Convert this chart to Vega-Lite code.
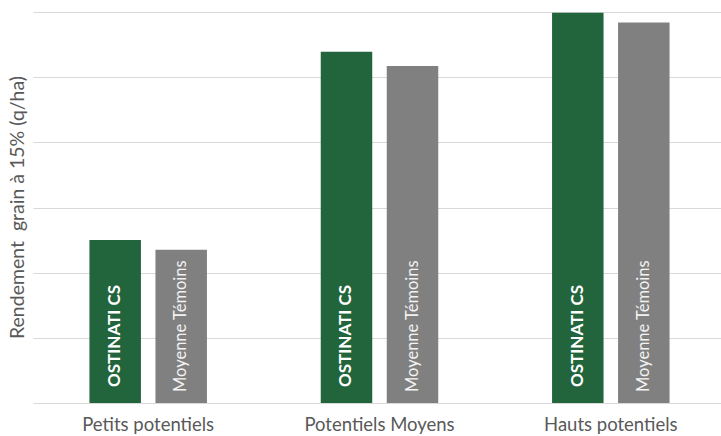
{
  "$schema": "https://vega.github.io/schema/vega-lite/v6.json",
  "width": 688,
  "height": 391,
  "autosize": {"type": "none"},
  "padding": {"left": 33, "top": 12, "right": 0, "bottom": 33},
  "config": {
    "view": {"stroke": null},
    "font": "Lato",
    "axis": {"labelFont": "Lato", "titleFont": "Lato"}
  },
  "data": {
    "values": [
      {"categorie": "Petits potentiels", "serie": "OSTINATI CS", "rendement": 25.0},
      {"categorie": "Petits potentiels", "serie": "Moyenne Témoins", "rendement": 23.5},
      {"categorie": "Potentiels Moyens", "serie": "OSTINATI CS", "rendement": 53.9},
      {"categorie": "Potentiels Moyens", "serie": "Moyenne Témoins", "rendement": 51.7},
      {"categorie": "Hauts potentiels", "serie": "OSTINATI CS", "rendement": 59.9},
      {"categorie": "Hauts potentiels", "serie": "Moyenne Témoins", "rendement": 58.4}
    ]
  },
  "encoding": {
    "x": {
      "field": "categorie",
      "type": "nominal",
      "sort": ["Petits potentiels", "Potentiels Moyens", "Hauts potentiels"],
      "scale": {"range": [0, 693], "paddingInner": 0.492, "paddingOuter": 0.244},
      "axis": {
        "title": null,
        "labelAngle": 0,
        "labelFontSize": 18.5,
        "labelColor": "#595959",
        "labelPadding": 12,
        "ticks": false,
        "domainColor": "#D9D9D9",
        "domainWidth": 1
      }
    },
    "xOffset": {
      "field": "serie",
      "type": "nominal",
      "sort": ["OSTINATI CS", "Moyenne Témoins"],
      "scale": {"paddingInner": 0.22, "paddingOuter": 0}
    }
  },
  "layer": [
    {
      "mark": {"type": "bar"},
      "encoding": {
        "y": {
          "field": "rendement",
          "type": "quantitative",
          "scale": {"domain": [0, 60], "nice": false},
          "axis": {
            "title": "Rendement\u00a0 grain à 15% (q/ha)",
            "titleFontSize": 19.5,
            "titleFontWeight": "normal",
            "titleColor": "#595959",
            "titleX": -16,
            "titleY": 195,
            "titleBaseline": "middle",
            "titleAlign": "center",
            "values": [0, 10, 20, 30, 40, 50, 60],
            "labels": false,
            "ticks": false,
            "domain": false,
            "grid": true,
            "gridColor": "#D9D9D9",
            "gridWidth": 1
          }
        },
        "color": {
          "field": "serie",
          "type": "nominal",
          "scale": {"domain": ["OSTINATI CS", "Moyenne Témoins"], "range": ["#22653D", "#808080"]},
          "legend": null
        }
      }
    },
    {
      "transform": [{"filter": "datum.serie === 'OSTINATI CS'"}],
      "mark": {"type": "text", "angle": 270, "align": "left", "baseline": "middle", "dx": 16, "fontSize": 17, "fontWeight": "bold", "color": "#FFFFFF"},
      "encoding": {
        "y": {"datum": 0, "type": "quantitative"},
        "text": {"field": "serie"}
      }
    },
    {
      "transform": [{"filter": "datum.serie === 'Moyenne Témoins'"}],
      "mark": {"type": "text", "angle": 270, "align": "left", "baseline": "middle", "dx": 11, "fontSize": 16.5, "color": "#F2F2F2"},
      "encoding": {
        "y": {"datum": 0, "type": "quantitative"},
        "text": {"field": "serie"}
      }
    }
  ]
}
